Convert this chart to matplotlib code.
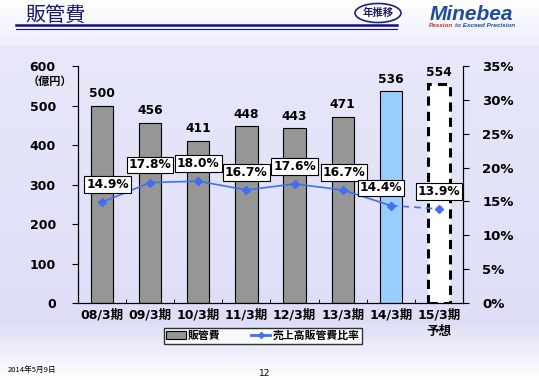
import numpy as np
import matplotlib.pyplot as plt
from matplotlib.patches import Ellipse
from matplotlib.lines import Line2D
from matplotlib.patches import Patch

plt.rcParams['font.family'] = ['DejaVu Sans', 'Noto Sans CJK JP']

# データ
categories = ["08/3期", "09/3期", "10/3期", "11/3期", "12/3期", "13/3期", "14/3期", "15/3期\n予想"]
sga = [500, 456, 411, 448, 443, 471, 536, 554]  # 販管費（億円）
ratio = [14.9, 17.8, 18.0, 16.7, 17.6, 16.7, 14.4, 13.9]  # 売上高販管費比率（%）

fig = plt.figure(figsize=(5.39, 3.8), dpi=100)

# 背景のグラデーション
bg = fig.add_axes([0, 0, 1, 1], zorder=-10)
grad = np.ones((380, 1, 3))
for i in range(380):
    t = i / 379
    if t < 0.12:
        c = np.array([1.0, 1.0, 1.0]) * (1 - t / 0.12) + np.array([0.93, 0.93, 0.99]) * (t / 0.12)
    elif t < 0.85:
        c = np.array([0.91, 0.91, 0.98]) + (np.array([0.87, 0.87, 0.97]) - np.array([0.91, 0.91, 0.98])) * ((t - 0.12) / 0.73)
    else:
        c = np.array([0.87, 0.87, 0.97]) + (np.array([1.0, 1.0, 1.0]) - np.array([0.87, 0.87, 0.97])) * ((t - 0.85) / 0.15)
    grad[i, 0] = c
bg.imshow(grad, aspect='auto', extent=[0, 1, 0, 1])
bg.axis('off')

ax = fig.add_axes([0.1447, 0.2026, 0.7143, 0.6234])
ax.patch.set_alpha(0)
x = np.arange(len(categories))
colors = ["#969696"] * 6 + ["#99ccff", "white"]
bars = ax.bar(x, sga, width=0.46, color=colors, edgecolor="black", linewidth=0.8, zorder=2)
bars[-1].set_linestyle((0, (3, 2)))
bars[-1].set_linewidth(2.2)
for xi, v in zip(x, sga):
    ax.annotate(str(v), (xi, v), xytext=(0, 4), textcoords="offset points",
                ha="center", va="bottom", fontsize=8.8, fontweight="bold")

ax.set_xlim(-0.5, len(categories) - 0.5)
ax.set_ylim(0, 600)
ax.set_yticks(range(0, 601, 100))
ax.set_yticklabels([str(v) for v in range(0, 601, 100)], fontsize=9, fontweight="bold")
ax.tick_params(axis="y", direction="out", length=4, pad=12)
ax.set_xticks(x)
ax.set_xticklabels(categories, fontsize=9, fontweight="bold", linespacing=1.3)
ax.tick_params(axis="x", length=0, pad=4)
ax.set_xticks(np.arange(-0.5, len(categories), 1), minor=True)
ax.tick_params(axis="x", which="minor", direction="in", length=3)
ax.spines["top"].set_visible(False)
ax.text(-0.073, 0.937, "（億円）", transform=ax.transAxes, fontsize=8, fontweight="bold",
        ha="center", va="center", family=["Noto Sans CJK JP"])

ax2 = ax.twinx()
ax2.set_ylim(0, 35)
ax2.set_yticks(range(0, 36, 5))
ax2.set_yticklabels([f"{v}%" for v in range(0, 36, 5)], fontsize=9.5, fontweight="bold")
ax2.tick_params(axis="y", direction="out", length=4, pad=10)
ax2.spines["top"].set_visible(False)
line_c = "#4070f0"
ax2.plot(x[:7], ratio[:7], color=line_c, marker="D", markersize=4, linewidth=1.2, zorder=3)
ax2.plot(x[6:], ratio[6:], color=line_c, linewidth=1.2, linestyle=(0, (4, 3)), zorder=3)
ax2.plot(x[7:], ratio[7:], color=line_c, marker="D", markersize=4, linestyle="none", zorder=3)
label_dx = [4, 0, 0, 0, 0, 1, -7, 0]
for xi, v, dx in zip(x, ratio, label_dx):
    ax2.annotate(f"{v:.1f}%", (xi, v), xytext=(dx, 8), textcoords="offset points",
                 ha="center", va="bottom", fontsize=8.8, fontweight="bold",
                 bbox=dict(boxstyle="square,pad=0.15", fc="white", ec="black", lw=0.8), zorder=5)

handles = [Patch(facecolor="#969696", edgecolor="black", linewidth=0.8),
           Line2D([0], [0], color=line_c, marker="D", markersize=3, linewidth=2)]
fig.legend(handles, ["販管費", "売上高販管費比率"], loc="center", bbox_to_anchor=(263 / 539, 1 - 336 / 380),
           ncol=2, frameon=True, fancybox=False, edgecolor="black",
           handlelength=1.8, handletextpad=0.2, columnspacing=2.8, borderpad=0.25,
           prop={"weight": "bold", "size": 7.8})

# ヘッダー
fig.text(25 / 539, 1 - 15 / 380, "販管費", fontsize=14.5, color="#1a1a6a", va="center", ha="left",
         family=["Noto Sans CJK JP"])
fig.add_artist(Line2D([16 / 539, 397 / 539], [1 - 25 / 380] * 2, color="#101080", lw=1.8))
fig.add_artist(Line2D([16 / 539, 397 / 539], [1 - 28.5 / 380] * 2, color="#101080", lw=0.8))
fig.add_artist(Ellipse((378 / 539, 1 - 13 / 380), 46 / 539, 19 / 380, transform=fig.transFigure,
                       fc="white", ec="#202080", lw=1.2))
fig.text(378 / 539, 1 - 13 / 380, "年推移", fontsize=7.5, fontweight="bold", color="#202060",
         ha="center", va="center", family=["Noto Sans CJK JP"])
fig.text(471 / 539, 1 - 14 / 380, "Minebea", fontsize=15, fontweight="bold", style="italic",
         color="#1f4ea0", ha="center", va="center", family=["Liberation Sans"])
fig.text(429 / 539, 1 - 25.5 / 380, "Passion", fontsize=4.6, fontweight="bold", style="italic",
         color="#d03020", ha="left", va="center", family=["Liberation Sans"])
fig.text(455 / 539, 1 - 25.5 / 380, "to Exceed Precision", fontsize=4.6, fontweight="bold", style="italic",
         color="#1f4ea0", ha="left", va="center", family=["Liberation Sans"])

# フッター
fig.text(8 / 539, 1 - 370 / 380, "2014年5月9日", fontsize=5.5, style="italic", ha="left", va="center",
         family=["Noto Sans CJK JP"])
fig.text(265 / 539, 1 - 373 / 380, "12", fontsize=6.5, ha="center", va="center")

fig.savefig("out.png", dpi=100)
